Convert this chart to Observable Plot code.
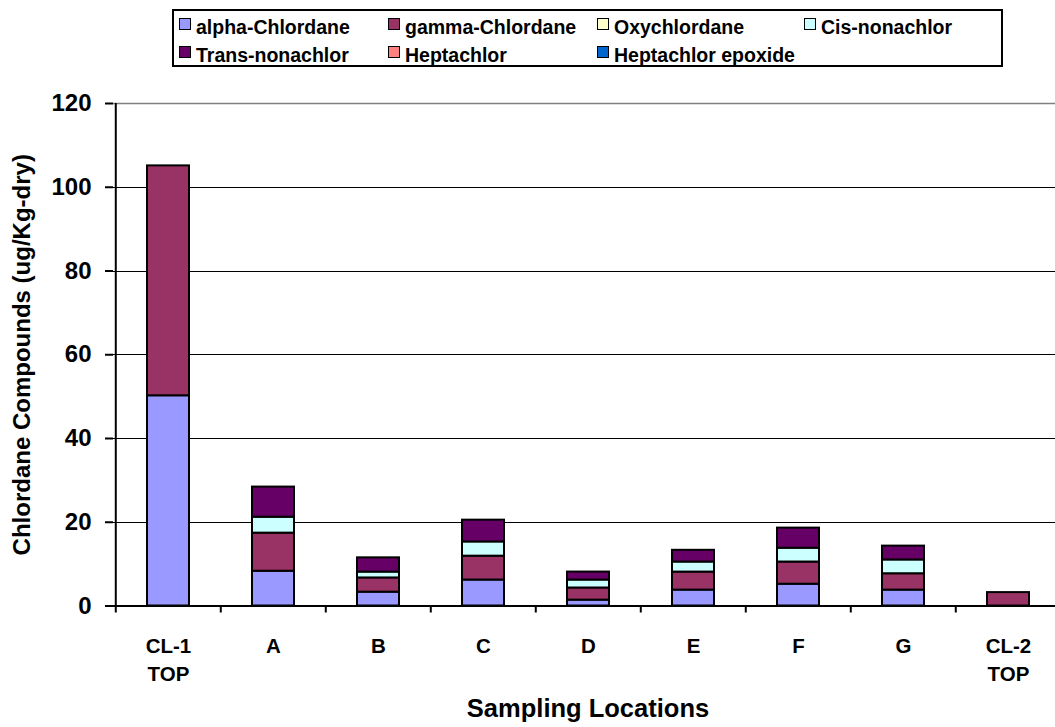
<!DOCTYPE html>
<html>
<head>
<meta charset="utf-8">
<script src="https://cdn.jsdelivr.net/npm/d3@7"></script>
<script src="https://cdn.jsdelivr.net/npm/@observablehq/plot@0.6"></script>
<style>
  html, body { margin: 0; padding: 0; background: #fff; }
  #wrap { position: relative; width: 1055px; height: 727px; overflow: hidden; font-family: "Liberation Sans", Arial, sans-serif; }
  #legend { position: absolute; left: 172px; top: 9px; width: 827px; height: 54px; border: 2px solid #000; background: #fff; }
  .item { position: absolute; display: flex; align-items: center; font-weight: bold; font-size: 19.5px; color: #000; white-space: nowrap; }
  .sw { width: 10px; height: 10px; border: 1.5px solid #000; margin-right: 5px; position: relative; top: -3px; }
</style>
</head>
<body>
<div id="wrap"><div id="legend"></div></div>
<script>
// Sampling locations along the x axis
const locations = ["CL-1 TOP", "A", "B", "C", "D", "E", "F", "G", "CL-2 TOP"];

// Compound concentrations, ug/Kg-dry, one value per location
const alphaChlordane   = [50.2, 8.3, 3.3, 6.2, 1.4, 3.8, 5.2, 3.8, 0];
const gammaChlordane   = [54.9, 9.1, 3.4, 5.7, 2.9, 4.3, 5.3, 3.9, 3.2];
const oxychlordane     = [0, 0, 0, 0, 0, 0, 0, 0, 0];
const cisNonachlor     = [0, 3.8, 1.4, 3.4, 1.9, 2.4, 3.3, 3.3, 0];
const transNonachlor   = [0, 7.2, 3.4, 5.2, 1.9, 2.8, 4.8, 3.3, 0];
const heptachlor       = [0, 0, 0, 0, 0, 0, 0, 0, 0];
const heptachlorEpoxide = [0, 0, 0, 0, 0, 0, 0, 0, 0];

const compounds = ["alpha-Chlordane", "gamma-Chlordane", "Oxychlordane", "Cis-nonachlor",
                   "Trans-nonachlor", "Heptachlor", "Heptachlor epoxide"];
const colors = ["#9999FF", "#993366", "#FFFFCC", "#CCFFFF", "#660066", "#FF8080", "#0066CC"];
const series = [alphaChlordane, gammaChlordane, oxychlordane, cisNonachlor,
                transNonachlor, heptachlor, heptachlorEpoxide];

const yTicks = [0, 20, 40, 60, 80, 100, 120];

// Long-format table for the stacked bars
const rows = [];
series.forEach((vals, k) => {
  vals.forEach((v, i) => {
    if (v > 0) rows.push({location: locations[i], compound: compounds[k], value: v});
  });
});

const font = "'Liberation Sans', Arial, sans-serif";
const halfBand = (1062 - 113) / locations.length / 2;

const chart = Plot.plot({
  width: 1055,
  height: 727,
  marginLeft: 113,
  marginRight: -7,
  marginTop: 103,
  marginBottom: 121.5,
  style: {fontFamily: font, background: "#fff", overflow: "visible"},
  x: {domain: locations, paddingInner: 0.6, paddingOuter: 0.3},
  y: {domain: [0, 120]},
  color: {domain: compounds, range: colors},
  marks: [
    // horizontal gridlines
    Plot.ruleY(yTicks.filter(t => t > 0 && t < 120), {stroke: "#000", strokeWidth: 1, shapeRendering: "crispEdges"}),
    Plot.ruleY([120], {stroke: "#808080", strokeWidth: 1.5}),
    // stacked bars
    Plot.barY(rows, {
      x: "location", y: "value", fill: "compound",
      order: compounds, stroke: "#000", strokeWidth: 2
    }),
    // axis lines
    Plot.ruleY([0], {stroke: "#000", strokeWidth: 2}),
    Plot.ruleX([locations[0]], {y1: 0, y2: 120, dx: -halfBand, stroke: "#000", strokeWidth: 2}),
    // y axis ticks and labels
    Plot.axisY({
      ticks: yTicks, tickSize: 8, tickPadding: 14, strokeWidth: 2,
      fontSize: 24, fontWeight: "bold", label: null
    }),
    // x ticks sit between categories
    Plot.axisX({tickSize: 7, text: null, dx: -halfBand, strokeWidth: 2, label: null}),
    // x category labels
    Plot.axisX({
      tickSize: 0, tickPadding: 27, fontSize: 20.5, fontWeight: "bold",
      lineHeight: 1.38, tickFormat: d => d.replace(" ", "\n"), label: null
    }),
    // axis titles
    Plot.text(["Chlordane Compounds (ug/Kg-dry)"], {
      frameAnchor: "left", dx: -91, rotate: -90, textAnchor: "middle",
      fontSize: 24, fontWeight: "bold", fill: "#000"
    }),
    Plot.text(["Sampling Locations"], {
      frameAnchor: "bottom", dy: 103, lineAnchor: "middle",
      fontSize: 25.5, fontWeight: "bold", fill: "#000"
    })
  ]
});

document.getElementById("wrap").prepend(chart);
chart.style.position = "absolute";
chart.style.left = "0";
chart.style.top = "0";

// Legend box: two rows of four columns
const legend = document.getElementById("legend");
const colX = [5, 214, 423, 630];
const rowTop = [5, 33];
compounds.forEach((name, k) => {
  const item = document.createElement("div");
  item.className = "item";
  item.style.left = colX[k % 4] + "px";
  item.style.top = rowTop[Math.floor(k / 4)] + "px";
  item.style.height = "22px";
  const sw = document.createElement("span");
  sw.className = "sw";
  sw.style.background = colors[k];
  item.appendChild(sw);
  item.appendChild(document.createTextNode(name));
  legend.appendChild(item);
});
</script>
</body>
</html>
